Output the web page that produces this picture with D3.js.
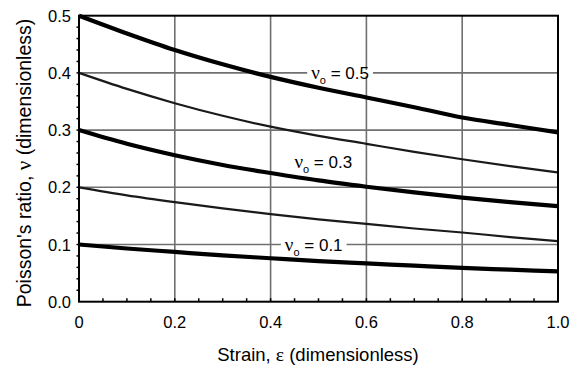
<!DOCTYPE html>
<html><head><meta charset="utf-8">
<script src="https://cdn.jsdelivr.net/npm/d3@7"></script>
<style>body{margin:0;background:#fff}svg{display:block}</style>
</head><body>
<svg id="c" width="572" height="369"></svg>
<script>
const strain = [0,0.1,0.2,0.3,0.4,0.5,0.6,0.7,0.8,0.9,1.0];
const nu05 = [0.5,0.469,0.440,0.415,0.393,0.374,0.357,0.340,0.322,0.309,0.296];
const nu04 = [0.4,0.372,0.347,0.325,0.306,0.290,0.276,0.262,0.249,0.237,0.226];
const nu03 = [0.3,0.276,0.256,0.239,0.225,0.212,0.201,0.191,0.182,0.174,0.167];
const nu02 = [0.2,0.186,0.174,0.163,0.153,0.144,0.136,0.128,0.121,0.113,0.106];
const nu01 = [0.1,0.093,0.087,0.081,0.076,0.071,0.067,0.063,0.059,0.056,0.053];
const xTicks = [0,0.2,0.4,0.6,0.8,1.0];
const xTickLabels = ["0","0.2","0.4","0.6","0.8","1.0"];
const yTicks = [0,0.1,0.2,0.3,0.4,0.5];
const yTickLabels = ["0.0","0.1","0.2","0.3","0.4","0.5"];
const series = [
  {v: nu05, thick: true, label: "0.5"},
  {v: nu04, thick: false},
  {v: nu03, thick: true, label: "0.3"},
  {v: nu02, thick: false},
  {v: nu01, thick: true, label: "0.1"}
];
const labelPos = [{s:0, x:0.545, y:0.4, knock:true},{s:2, x:0.51, y:0.244, knock:false},{s:4, x:0.49, y:0.1, knock:true}];

const svg = d3.select("#c");
const L=79, R=558, T=15.7, B=301.7;
const x = d3.scaleLinear().domain([0,1]).range([L,R]);
const y = d3.scaleLinear().domain([0,0.5]).range([B,T]);
const font = "Liberation Sans, Arial, sans-serif";

// gridlines
svg.append("g").selectAll("line").data(yTicks.slice(1,5)).join("line")
  .attr("x1",L).attr("x2",R).attr("y1",d=>y(d)).attr("y2",d=>y(d))
  .attr("stroke","#707070").attr("stroke-width",1.6);
svg.append("g").selectAll("line").data(xTicks.slice(1,5)).join("line")
  .attr("y1",T).attr("y2",B).attr("x1",d=>x(d)).attr("x2",d=>x(d))
  .attr("stroke","#707070").attr("stroke-width",1.6);

// curves
const line = d3.line().x((d,i)=>x(strain[i])).y(d=>y(d)).curve(d3.curveMonotoneX);
svg.append("g").selectAll("path").data(series).join("path")
  .attr("d",d=>line(d.v)).attr("fill","none")
  .attr("stroke",d=>d.thick?"#000":"#1a1a1a")
  .attr("stroke-width",d=>d.thick?4.2:2.2);

// labels
labelPos.forEach(p=>{
  const g = svg.append("g");
  const t = g.append("text").attr("x",x(p.x)).attr("y",y(p.y)+6)
    .attr("text-anchor","middle").attr("font-family",font).attr("font-size",17).attr("fill","#000");
  t.append("tspan").attr("font-family","Liberation Serif, serif").attr("font-size",19).text("\u03bd");
  t.append("tspan").attr("font-size",11).attr("dy",5).text("o");
  t.append("tspan").attr("dy",-5).text(" = "+series[p.s].label);
  if(p.knock){
    const bb = t.node().getBBox();
    g.insert("rect","text").attr("x",bb.x-4).attr("y",y(p.y)-3).attr("width",bb.width+8).attr("height",6).attr("fill","#fff");
  }
});

// frame
svg.append("rect").attr("x",L).attr("y",T).attr("width",R-L).attr("height",B-T)
  .attr("fill","none").attr("stroke","#000").attr("stroke-width",2);

// minor ticks
const xMinor = d3.range(0.05,1,0.05);
svg.append("g").selectAll("line").data(xMinor).join("line")
  .attr("x1",d=>x(d)).attr("x2",d=>x(d)).attr("y1",B).attr("y2",B-3.5)
  .attr("stroke","#000").attr("stroke-width",1.5);
const yMinor = d3.range(0.02,0.5,0.02);
svg.append("g").selectAll("line").data(yMinor).join("line")
  .attr("x1",L).attr("x2",L-2.5).attr("y1",d=>y(d)).attr("y2",d=>y(d))
  .attr("stroke","#000").attr("stroke-width",1.5);

// tick labels
svg.append("g").selectAll("text").data(xTicks).join("text")
  .attr("x",d=>x(d)).attr("y",B+26).attr("text-anchor","middle")
  .attr("font-family",font).attr("font-size",16.5).text((d,i)=>xTickLabels[i]);
svg.append("g").selectAll("text").data(yTicks).join("text")
  .attr("x",L-8).attr("y",d=>y(d)+6).attr("text-anchor","end")
  .attr("font-family",font).attr("font-size",16.5).text((d,i)=>yTickLabels[i]);

// axis titles
const xt = svg.append("text").attr("x",318).attr("y",361).attr("text-anchor","middle")
  .attr("font-family",font).attr("font-size",18.5);
xt.append("tspan").text("Strain, ");
xt.append("tspan").attr("font-family","Liberation Serif, serif").attr("font-size",19.5).text("\u03b5");
xt.append("tspan").text(" (dimensionless)");
const yt = svg.append("text").attr("transform","translate(31,163) rotate(-90)").attr("text-anchor","middle")
  .attr("font-family",font).attr("font-size",19.5);
yt.append("tspan").text("Poisson's ratio, ");
yt.append("tspan").attr("font-family","Liberation Serif, serif").attr("font-size",21).text("\u03bd");
yt.append("tspan").text(" (dimensionless)");
</script>
</body></html>
